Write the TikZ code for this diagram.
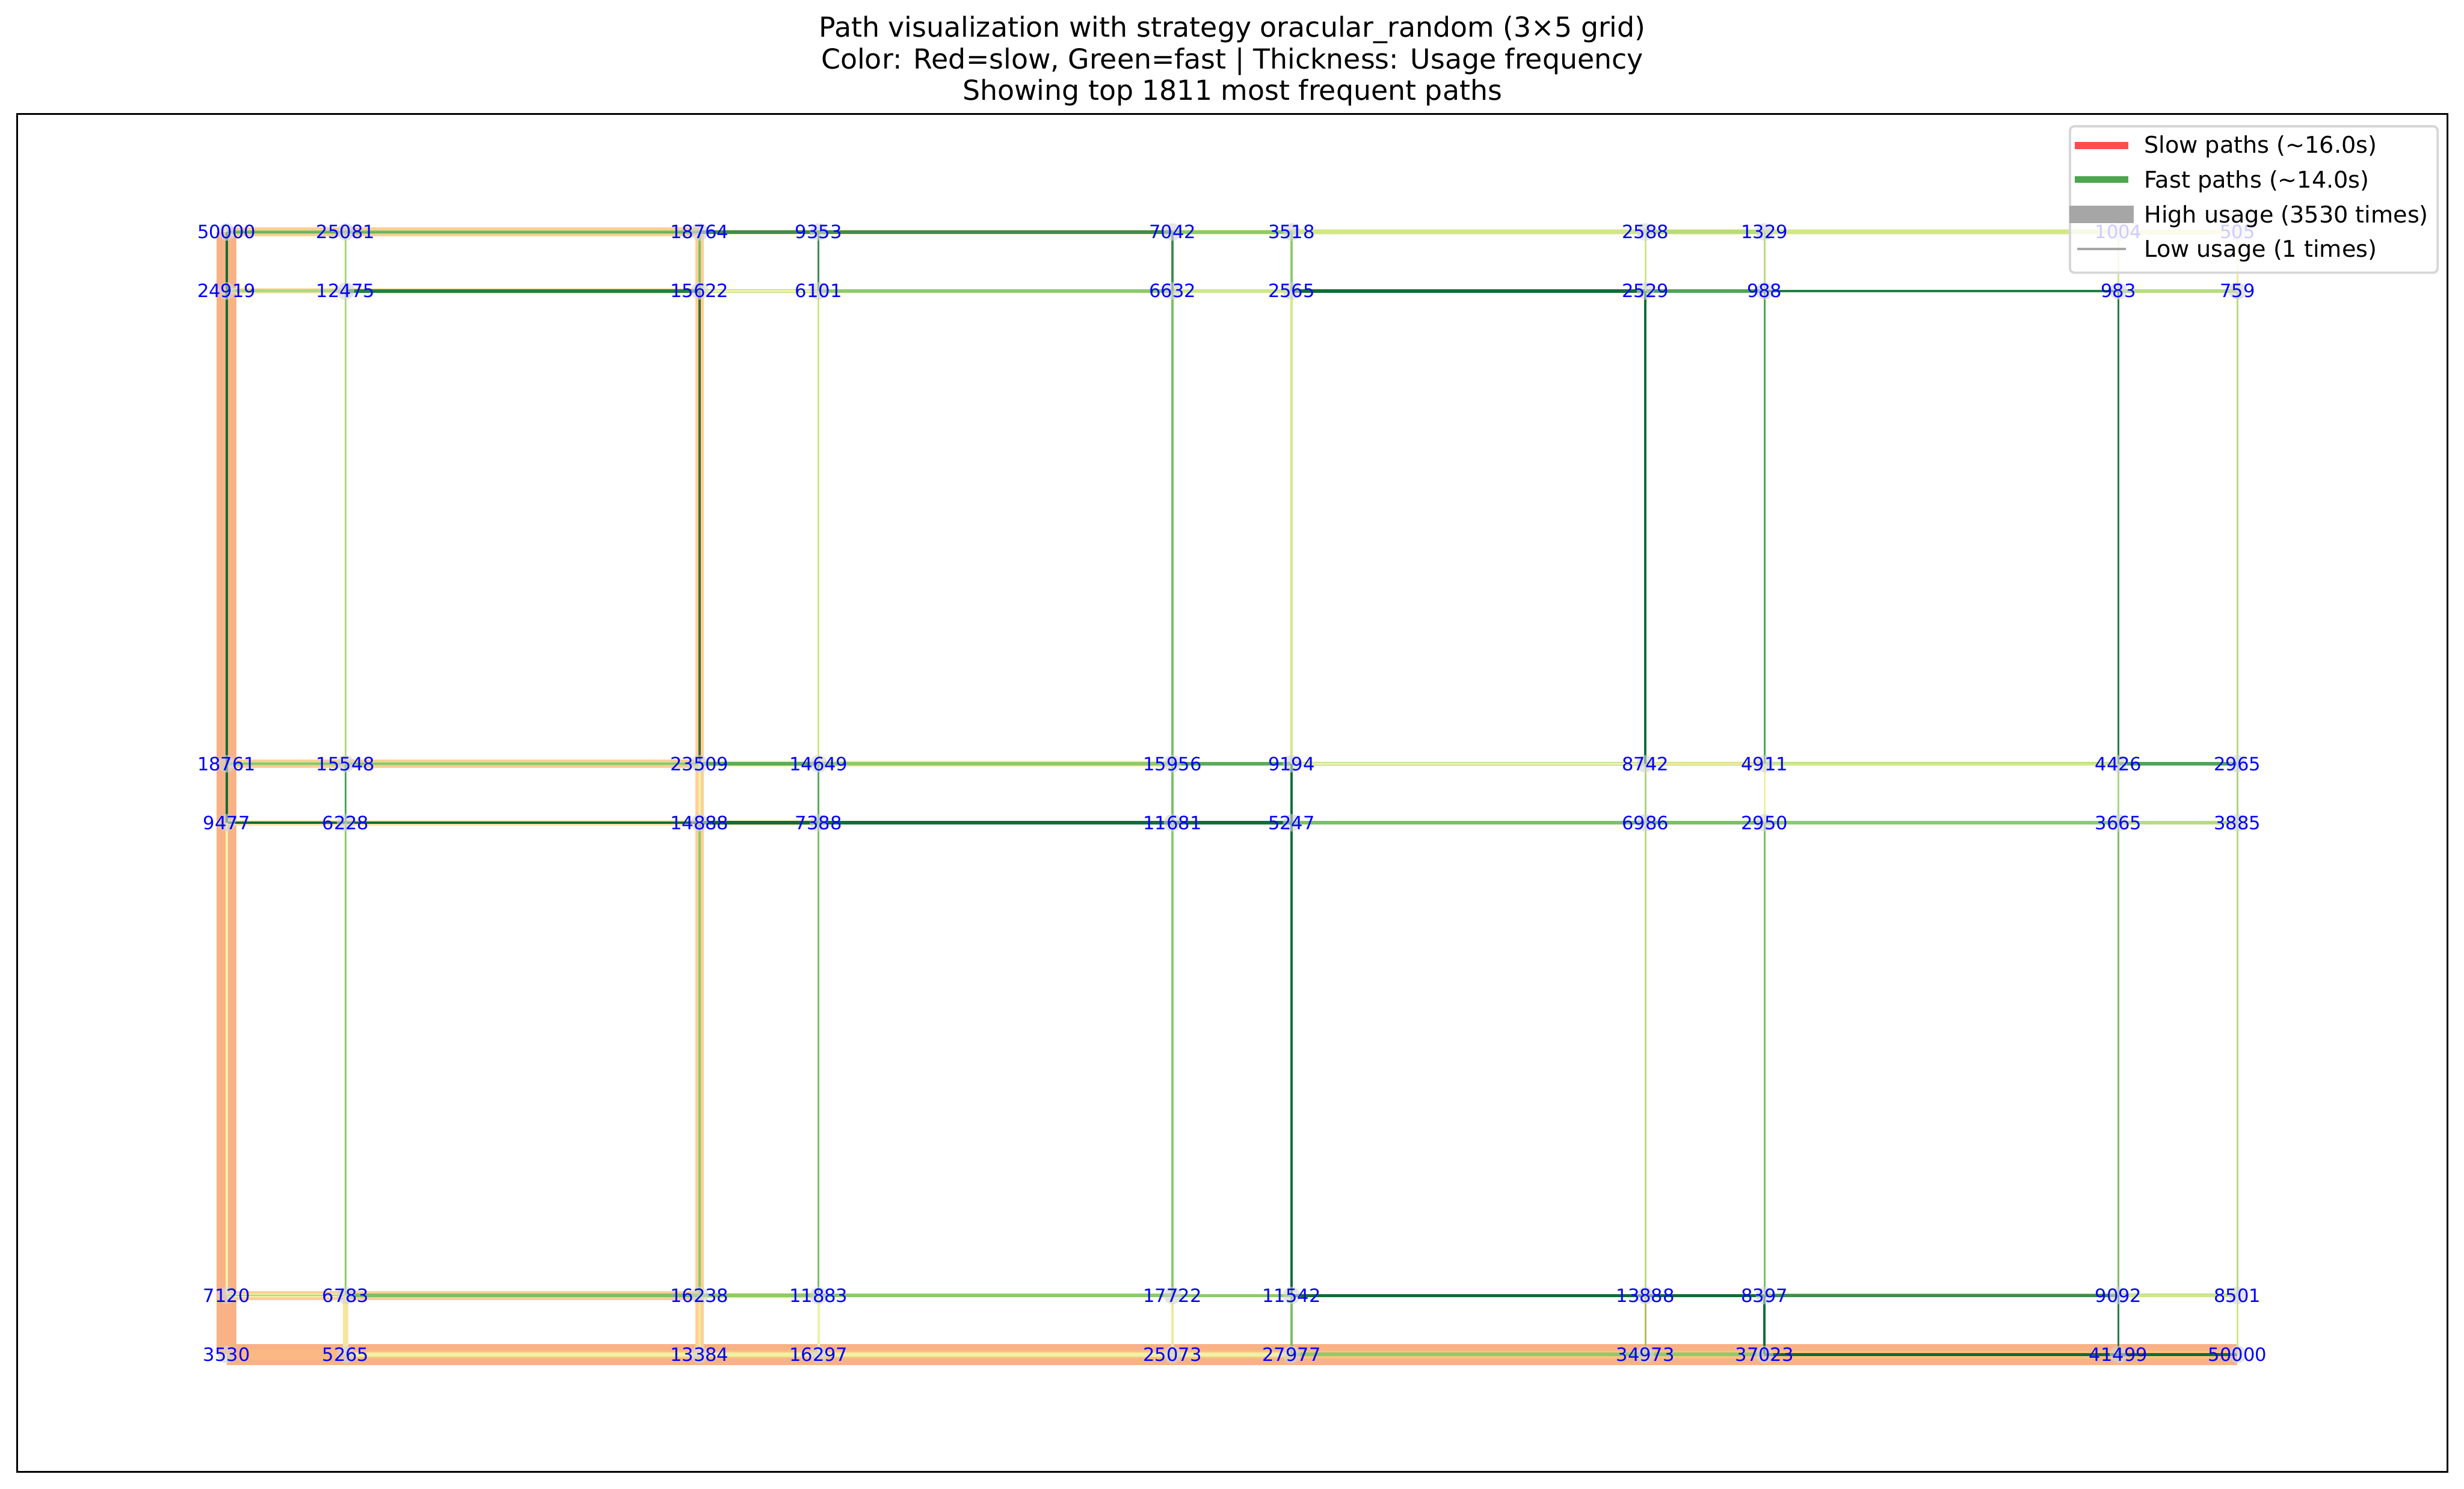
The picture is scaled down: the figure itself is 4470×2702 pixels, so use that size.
\documentclass[tikz,border=0pt]{standalone}
\usepackage{fontspec}
\setmainfont{DejaVu Sans}
\definecolor{salmon}{HTML}{F9B286}
\definecolor{salmonb}{HTML}{FBB883}
\definecolor{orb}{HTML}{FDCF96}
\definecolor{orl}{HTML}{FDE2A8}
\definecolor{orm}{HTML}{FCC27C}
\definecolor{dg}{HTML}{0E6E37}
\definecolor{dgb}{HTML}{1E8044}
\definecolor{mg}{HTML}{3D8C4F}
\definecolor{mgb}{HTML}{4EA558}
\definecolor{gr}{HTML}{5AAC5A}
\definecolor{lg}{HTML}{7CC064}
\definecolor{lgb}{HTML}{8CCB6A}
\definecolor{lgc}{HTML}{A8D67A}
\definecolor{yg}{HTML}{B8DC7C}
\definecolor{ygb}{HTML}{CFE88A}
\definecolor{py}{HTML}{EEF2A6}
\definecolor{yl}{HTML}{F2E89A}
\definecolor{pyo}{HTML}{F8ECB2}
\definecolor{ol}{HTML}{B5BE58}
\definecolor{dol}{HTML}{3F6E2F}
\definecolor{pg}{HTML}{AED882}
\definecolor{legred}{HTML}{FF4D4D}
\definecolor{leggreen}{HTML}{4DA64D}
\definecolor{leggray}{HTML}{A6A6A6}
\definecolor{nodegray}{HTML}{D4D4D4}
\definecolor{legedge}{HTML}{D6D6D6}
\definecolor{lblblue}{HTML}{0000FF}
\newcommand\mylab[2]{\node[lbl] (l#1) at (p#1) {#2};}
\begin{document}
\begin{tikzpicture}[x=0.24pt,y=-0.24pt,
  ed/.style 2 args={line width=#1pt, draw=#2},
  lbl/.style={inner sep=0pt, text=lblblue, font=\fontsize{8}{9.6}\selectfont},
  ttl/.style={anchor=base, inner sep=0pt, font=\fontsize{12}{14.4}\selectfont},
  legtxt/.style={anchor=base west, inner sep=0pt, font=\fontsize{10}{12}\selectfont},
  legbox/.style={draw=legedge, line width=1pt, fill=white, fill opacity=0.8, rounded corners=2pt,
    minimum width=160.1pt, minimum height=63.8pt, inner sep=0pt, anchor=north west}]
\useasboundingbox (0,0) rectangle (4470,2702);
\foreach \c/\x in {0/411,1/627,2/1269,3/1485,4/2127,5/2343,6/2985,7/3201,8/3843,9/4059}
  \foreach \r/\y in {0/421,1/528,2/1386,3/1493,4/2351,5/2458}
    \coordinate (p\r\c) at (\x,\y);
% wide bands
\draw[ed={9.1}{salmon}] (p50) -- (p59);
\draw[ed={8.6}{salmon}] (p00) -- (p50);
\draw[ed={4.6}{salmonb}] (p50) -- (p51);
\draw[ed={3.4}{orm}] (p51) -- (p59);
\draw[ed={3.84}{orb}] (p00) -- (p02);
\draw[ed={3.84}{orb}] (p20) -- (p22);
\draw[ed={3.84}{orb}] (p40) -- (p42);
\draw[ed={2.4}{orl}] (p10) -- (p12);
\draw[ed={2.4}{orl}] (p30) -- (p32);
\draw[ed={3.6}{orb}] (p02) -- (p52);
\draw[ed={2.4}{orl}] (p41) -- (p51);
% row 0
\draw[ed={1.7}{lgb}] (p00) -- (p02);
\draw[ed={0.5}{gr}] (p00) -- (p02);
\draw[ed={2.2}{pyo}] (p02) -- (p04);
\draw[ed={1.6}{mg}] (p02) -- (p04);
\draw[ed={2.0}{py}] (p04) -- (p05);
\draw[ed={1.5}{lgb}] (p04) -- (p05);
\draw[ed={2.4}{pyo}] (p05) -- (p06);
\draw[ed={1.9}{ygb}] (p05) -- (p06);
\draw[ed={2.4}{pyo}] (p06) -- (p07);
\draw[ed={1.9}{yg}] (p06) -- (p07);
\draw[ed={2.4}{pyo}] (p07) -- (p08);
\draw[ed={1.9}{ygb}] (p07) -- (p08);
\draw[ed={2.0}{yl}] (p08) -- (p09);
% row 1
\draw[ed={1.4}{pg}] (p10) -- (p11);
\draw[ed={1.5}{dgb}] (p11) -- (p12);
\draw[ed={1.6}{yg}] (p12) -- (p13);
\draw[ed={1.1}{py}] (p12) -- (p13);
\draw[ed={1.5}{lgb}] (p13) -- (p14);
\draw[ed={1.5}{ygb}] (p14) -- (p15);
\draw[ed={1.5}{dg}] (p15) -- (p16);
\draw[ed={1.5}{mgb}] (p16) -- (p17);
\draw[ed={1.2}{dgb}] (p17) -- (p18);
\draw[ed={1.5}{yg}] (p18) -- (p19);
% row 2
\draw[ed={1.5}{pg}] (p20) -- (p22);
\draw[ed={0.4}{lg}] (p20) -- (p22);
\draw[ed={2.8}{pyo}] (p22) -- (p24);
\draw[ed={1.5}{gr}] (p22) -- (p23);
\draw[ed={1.8}{lgb}] (p23) -- (p24);
\draw[ed={1.5}{gr}] (p24) -- (p25);
\draw[ed={1.6}{lgc}] (p25) -- (p26);
\draw[ed={1.2}{py}] (p25) -- (p26);
\draw[ed={1.6}{yg}] (p26) -- (p27);
\draw[ed={1.2}{yl}] (p26) -- (p27);
\draw[ed={1.6}{lgc}] (p27) -- (p28);
\draw[ed={1.3}{ygb}] (p27) -- (p28);
\draw[ed={1.5}{mgb}] (p28) -- (p29);
% row 3
\draw[ed={1.2}{dg}] (p30) -- (p32);
\draw[ed={1.9}{pyo}] (p32) -- (p33);
\draw[ed={1.4}{dg}] (p32) -- (p35);
\draw[ed={1.5}{lg}] (p35) -- (p37);
\draw[ed={1.4}{lgb}] (p37) -- (p38);
\draw[ed={1.4}{yg}] (p38) -- (p39);
% row 4
\draw[ed={1.6}{py}] (p40) -- (p41);
\draw[ed={0.5}{pg}] (p40) -- (p41);
\draw[ed={1.5}{lg}] (p41) -- (p42);
\draw[ed={2.2}{pyo}] (p42) -- (p43);
\draw[ed={1.5}{lgb}] (p42) -- (p44);
\draw[ed={1.4}{lgb}] (p44) -- (p45);
\draw[ed={1.3}{dg}] (p45) -- (p47);
\draw[ed={1.6}{lgb}] (p47) -- (p48);
\draw[ed={1.2}{mg}] (p47) -- (p48);
\draw[ed={1.6}{lgc}] (p48) -- (p49);
\draw[ed={1.2}{ygb}] (p48) -- (p49);
% row 5
\draw[ed={2.0}{py}] (p51) -- (p55);
\draw[ed={1.5}{lgb}] (p55) -- (p57);
\draw[ed={1.3}{dg}] (p57) -- (p59);
% column 0
\draw[ed={1.0}{dg}] (p00) -- (p30);
\draw[ed={1.0}{py}] (p30) -- (p40);
% column 1
\draw[ed={0.85}{lgc}] (p01) -- (p11);
\draw[ed={0.85}{pg}] (p11) -- (p21);
\draw[ed={0.85}{mgb}] (p21) -- (p31);
\draw[ed={0.85}{lgb}] (p31) -- (p41);
\draw[ed={1.2}{yl}] (p41) -- (p51);
% column 2
\draw[ed={0.9}{lg}] (p02) -- (p12);
\draw[ed={0.9}{dol}] (p12) -- (p22);
\draw[ed={1.0}{py}] (p22) -- (p32);
\draw[ed={1.0}{lgb}] (p32) -- (p42);
\draw[ed={1.0}{yl}] (p42) -- (p52);
% column 3
\draw[ed={0.85}{mg}] (p03) -- (p13);
\draw[ed={0.85}{ygb}] (p13) -- (p23);
\draw[ed={0.85}{gr}] (p23) -- (p33);
\draw[ed={0.85}{lg}] (p33) -- (p43);
\draw[ed={0.95}{py}] (p43) -- (p53);
% column 4
\draw[ed={0.9}{mg}] (p04) -- (p14);
\draw[ed={0.95}{lg}] (p14) -- (p24);
\draw[ed={0.9}{lg}] (p24) -- (p34);
\draw[ed={0.95}{lgb}] (p34) -- (p44);
\draw[ed={1.1}{yl}] (p44) -- (p54);
% column 5
\draw[ed={0.85}{lgb}] (p05) -- (p15);
\draw[ed={0.85}{ygb}] (p15) -- (p25);
\draw[ed={0.9}{dg}] (p25) -- (p45);
\draw[ed={0.85}{lg}] (p45) -- (p55);
% column 6
\draw[ed={0.85}{ygb}] (p06) -- (p16);
\draw[ed={0.95}{dg}] (p16) -- (p26);
\draw[ed={0.85}{lgc}] (p26) -- (p36);
\draw[ed={0.9}{yg}] (p36) -- (p46);
\draw[ed={0.9}{ol}] (p46) -- (p56);
% column 7
\draw[ed={0.85}{yg}] (p07) -- (p17);
\draw[ed={0.85}{mgb}] (p17) -- (p27);
\draw[ed={0.85}{py}] (p27) -- (p37);
\draw[ed={0.85}{lg}] (p37) -- (p47);
\draw[ed={0.9}{dg}] (p47) -- (p57);
% column 8
\draw[ed={0.85}{ygb}] (p08) -- (p18);
\draw[ed={0.95}{dgb}] (p18) -- (p28);
\draw[ed={0.85}{lgc}] (p28) -- (p38);
\draw[ed={0.85}{lg}] (p38) -- (p48);
\draw[ed={0.95}{dgb}] (p48) -- (p58);
% column 9
\draw[ed={1.0}{yl}] (p09) -- (p19);
\draw[ed={0.9}{yg}] (p19) -- (p29);
\draw[ed={0.9}{lgc}] (p29) -- (p39);
\draw[ed={0.9}{yg}] (p39) -- (p49);
\draw[ed={0.9}{ygb}] (p49) -- (p59);
% node markers
\foreach \r in {0,...,5}
  \foreach \c in {0,...,9}
    \fill[nodegray, opacity=0.6] (p\r\c) circle [radius=3.8pt];
% labels
\mylab{00}{50000}\mylab{01}{25081}\mylab{02}{18764}\mylab{03}{9353}\mylab{04}{7042}
\mylab{05}{3518}\mylab{06}{2588}\mylab{07}{1329}\mylab{08}{1004}\mylab{09}{505}
\mylab{10}{24919}\mylab{11}{12475}\mylab{12}{15622}\mylab{13}{6101}\mylab{14}{6632}
\mylab{15}{2565}\mylab{16}{2529}\mylab{17}{988}\mylab{18}{983}\mylab{19}{759}
\mylab{20}{18761}\mylab{21}{15548}\mylab{22}{23509}\mylab{23}{14649}\mylab{24}{15956}
\mylab{25}{9194}\mylab{26}{8742}\mylab{27}{4911}\mylab{28}{4426}\mylab{29}{2965}
\mylab{30}{9477}\mylab{31}{6228}\mylab{32}{14888}\mylab{33}{7388}\mylab{34}{11681}
\mylab{35}{5247}\mylab{36}{6986}\mylab{37}{2950}\mylab{38}{3665}\mylab{39}{3885}
\mylab{40}{7120}\mylab{41}{6783}\mylab{42}{16238}\mylab{43}{11883}\mylab{44}{17722}
\mylab{45}{11542}\mylab{46}{13888}\mylab{47}{8397}\mylab{48}{9092}\mylab{49}{8501}
\mylab{50}{3530}\mylab{51}{5265}\mylab{52}{13384}\mylab{53}{16297}\mylab{54}{25073}
\mylab{55}{27977}\mylab{56}{34973}\mylab{57}{37023}\mylab{58}{41499}\mylab{59}{50000}
% legend
\node[legbox] (legend) at (3753,227) {};
\coordinate (h1a) at (3770,264); \coordinate (h1b) at (3855,264);
\coordinate (h2a) at (3770,326); \coordinate (h2b) at (3855,326);
\coordinate (h3a) at (3770,389); \coordinate (h3b) at (3855,389);
\coordinate (h4a) at (3770,452); \coordinate (h4b) at (3855,452);
\draw[line width=3pt, draw=legred, line cap=rect] (h1a) -- (h1b);
\draw[line width=3pt, draw=leggreen, line cap=rect] (h2a) -- (h2b);
\draw[line width=7.7pt, draw=leggray, line cap=rect] (h3a) -- (h3b);
\draw[line width=1pt, draw=leggray, line cap=rect] (h4a) -- (h4b);
\node[legtxt] (lt1) at (3889,278) {Slow paths (\textasciitilde16.0s)};
\node[legtxt] (lt2) at (3889,341) {Fast paths (\textasciitilde14.0s)};
\node[legtxt] (lt3) at (3889,404) {High usage (3530 times)};
\node[legtxt] (lt4) at (3889,467) {Low usage (1 times)};
% frame
\draw[line width=0.8pt] (31,207) rectangle (4440,2671);
% title
\node[ttl] (t1) at (2235.5,67) {Path visualization with strategy oracular\_random (3×5 grid)};
\node[ttl] (t2) at (2235.5,125) {Color: Red=slow, Green=fast | Thickness: Usage frequency};
\node[ttl] (t3) at (2235.5,182) {Showing top 1811 most frequent paths};
\end{tikzpicture}
\end{document}
